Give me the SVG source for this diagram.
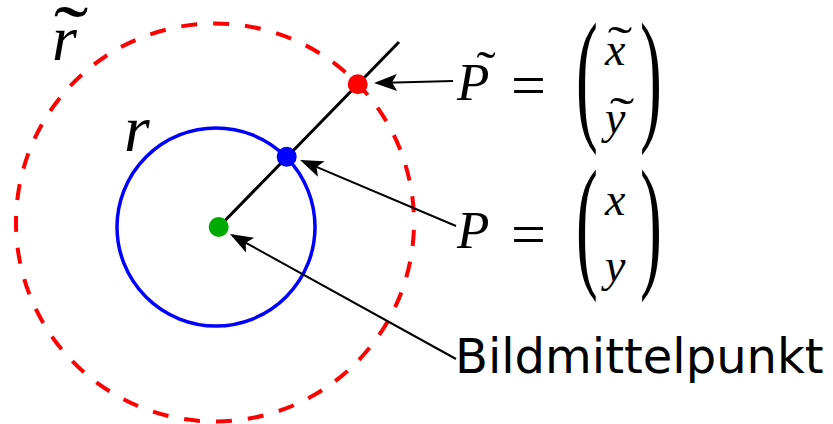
<svg xmlns="http://www.w3.org/2000/svg" width="833" height="424" viewBox="0 0 833 424">
<style>
.math{font-family:"Liberation Serif",serif;font-style:italic;fill:#000}
.rm{font-family:"Liberation Serif",serif;fill:#000}
.til{font-family:"Liberation Serif",serif;fill:#000;text-anchor:middle}
.lbl{font-family:"DejaVu Sans",sans-serif;fill:#000}
.conn{fill:none;stroke:#000;stroke-width:2}
</style>
<defs>
<marker id="ah" markerUnits="userSpaceOnUse" orient="auto" overflow="visible" markerWidth="30" markerHeight="30" refX="0" refY="0">
<path d="M3,0 L-20,-8.5 L-15,0 L-20,8.5 Z" fill="#000"/>
</marker>
</defs>
<g id="outer-circle">
<circle cx="215" cy="222.5" r="199" fill="none" stroke="#ff0000" stroke-width="4" stroke-dasharray="16 16" stroke-dashoffset="-7.5"/>
</g>
<g id="inner-circle">
<circle cx="216" cy="227" r="99" fill="none" stroke="#0000ff" stroke-width="3.5"/>
</g>
<g id="ray">
<line x1="218.7" y1="227" x2="399" y2="42" stroke="#000" stroke-width="3"/>
</g>
<g id="center"><circle cx="218.7" cy="227" r="10" fill="#00aa00"/></g>
<g id="point-p"><circle cx="286.7" cy="156.7" r="10" fill="#0000ff"/></g>
<g id="point-ptilde"><circle cx="357.7" cy="84.3" r="10" fill="#ff0000"/></g>
<g id="label-rtilde">
<text class="math" x="52" y="60" font-size="64">r</text>
<text class="til" font-size="80" transform="translate(71,61) scale(1.3,1)">˜</text>
</g>
<g id="label-r">
<text class="math" x="124" y="151" font-size="66">r</text>
</g>
<g id="label-ptilde">
<text class="math" x="457" y="100" font-size="53">P</text>
<text class="til" font-size="48" transform="translate(486,84.5) scale(1.2,1)">˜</text>
<text class="rm" x="511" y="106" font-size="62">=</text>
<text class="rm" font-size="146" transform="translate(576,124) scale(0.45,1)">(</text>
<text class="math" x="605" y="65" font-size="46">x</text>
<text class="til" font-size="46" transform="translate(620,57.5) scale(1.6,1)">˜</text>
<text class="math" x="605" y="133" font-size="46">y</text>
<text class="til" font-size="46" transform="translate(622,129) scale(1.6,1)">˜</text>
<text class="rm" font-size="146" transform="translate(640,124) scale(0.45,1)">)</text>
</g>
<g id="label-p">
<text class="math" x="457" y="248" font-size="53">P</text>
<text class="rm" x="511" y="255" font-size="62">=</text>
<text class="rm" font-size="146" transform="translate(576,271) scale(0.45,1)">(</text>
<text class="math" x="605" y="215" font-size="46">x</text>
<text class="math" x="605" y="281" font-size="46">y</text>
<text class="rm" font-size="146" transform="translate(640,271) scale(0.45,1)">)</text>
</g>
<g id="label-center">
<text class="lbl" x="455" y="373" font-size="48">Bildmittelpunkt</text>
</g>
<g id="connectors">
<path class="conn" d="M453,81 L377,82.9" marker-end="url(#ah)"/>
<path class="conn" d="M456,226 L302.8,161.2" marker-end="url(#ah)"/>
<path class="conn" d="M456,359 L232.6,235.5" marker-end="url(#ah)"/>
</g>
</svg>
